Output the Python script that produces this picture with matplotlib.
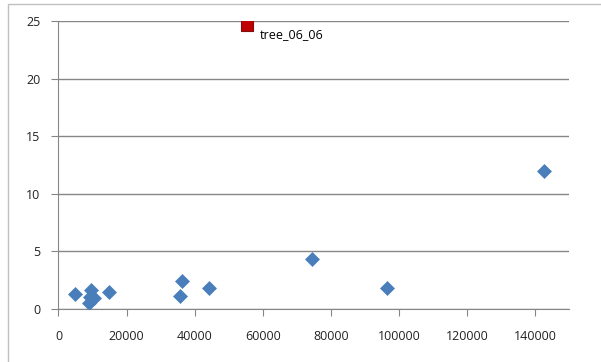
import matplotlib.pyplot as plt
from matplotlib.patches import Rectangle

# blue series
sizes = [4900, 9500, 9300, 9000, 10400, 14800, 36400, 35700, 44200, 74400, 96400, 142600]
times = [1.30, 1.65, 1.05, 0.50, 0.95, 1.50, 2.43, 1.13, 1.85, 4.34, 1.80, 11.98]

# highlighted outlier
out_x = [55400]
out_y = [24.65]
out_label = 'tree_06_06'

plt.rcParams['font.family'] = ['Open Sans', 'DejaVu Sans']

fig = plt.figure(figsize=(6.01, 3.62), dpi=100)
ax = fig.add_axes([0.0973, 0.1464, 0.8494, 0.7956])

# chart frame (right and bottom edges fall outside the picture)
fig.patches.append(Rectangle((8 / 601, -0.1), 1.0, 1.1 - 4 / 362,
                             transform=fig.transFigure, fill=False,
                             edgecolor='#c0c0c0', linewidth=1))

ax.scatter(sizes, times, marker='D', s=58, color='#4a7ebb', zorder=3, linewidths=0)
ax.scatter(out_x, out_y, marker='s', s=75, color='#c00000', edgecolor='#7f1010',
           linewidths=0.8, zorder=3)
for x, y in zip(out_x, out_y):
    ax.annotate(out_label, (x, y), xytext=(9, -7), textcoords='offset points',
                va='center', ha='left', fontsize=9)

ax.set_xlim(0, 150000)
ax.set_ylim(0, 25)
ax.set_xticks(range(0, 150000, 20000))
ax.set_yticks(range(0, 30, 5))
ax.yaxis.grid(True, color='#868686', linewidth=1)
ax.set_axisbelow(True)
for s in ['top', 'right']:
    ax.spines[s].set_visible(False)
for s in ['left', 'bottom']:
    ax.spines[s].set_color('#868686')
ax.tick_params(direction='out', length=5, color='#868686', labelsize=9,
               labelcolor='#222222')
ax.tick_params(axis='x', pad=10)
ax.tick_params(axis='y', pad=8)

fig.savefig('out.png', dpi=100)
